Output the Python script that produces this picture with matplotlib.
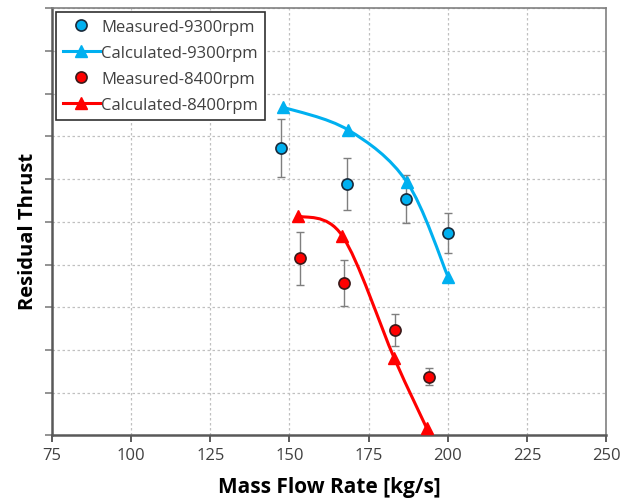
import matplotlib
matplotlib.use("Agg")
import matplotlib.pyplot as plt
import numpy as np
from matplotlib.path import Path
from matplotlib.patches import PathPatch
from matplotlib.lines import Line2D

# ── Data ──────────────────────────────────────────────────────────────────────

meas_9300_x = [147.2, 168.1, 186.8, 200.2]
meas_9300_y = [67.2, 58.8, 55.3, 47.4]
meas_9300_err = [6.8, 6.0, 5.6, 4.7]

calc_9300_x = [148.0, 168.5, 187.1, 200.1]
calc_9300_y = [76.8, 71.5, 59.3, 37.1]

meas_8400_x = [153.3, 167.1, 183.3, 194.1]
meas_8400_y = [41.5, 35.7, 24.7, 13.8]
meas_8400_err = [6.2, 5.4, 3.7, 2.1]

calc_8400_x = [152.6, 166.7, 183.1, 193.3]
calc_8400_y = [51.4, 46.7, 18.1, 1.8]

x_ticks = [75, 100, 125, 150, 175, 200, 225, 250]
labels = ["Measured-9300rpm", "Calculated-9300rpm", "Measured-8400rpm", "Calculated-8400rpm"]

BLUE = "#00B0F0"
RED = "#FF0000"

plt.rcParams["font.family"] = ["Open Sans", "DejaVu Sans"]


def smooth_path(xs, ys):
    """Excel-style smoothed line as cubic Bezier segments through the points."""
    pts = np.column_stack([xs, ys])
    n = len(pts)
    verts = [pts[0]]
    codes = [Path.MOVETO]
    for i in range(n - 1):
        p0 = pts[i - 1] if i > 0 else pts[i]
        p1 = pts[i]
        p2 = pts[i + 1]
        p3 = pts[i + 2] if i + 2 < n else pts[i + 1]
        c1 = p1 + (p2 - p0) / 6
        c2 = p2 - (p3 - p1) / 6
        verts += [c1, c2, p2]
        codes += [Path.CURVE4] * 3
    return Path(verts, codes)


fig = plt.figure(figsize=(6.32, 5.02), dpi=100)
ax = fig.add_axes([0.0823, 0.1305, 0.8766, 0.8515])

# smoothed calculated curves
for xs, ys, c in [(calc_9300_x, calc_9300_y, BLUE), (calc_8400_x, calc_8400_y, RED)]:
    ax.add_patch(PathPatch(smooth_path(xs, ys), fill=False, edgecolor=c, lw=2.2, zorder=3))

for xs, ys, err in [(meas_9300_x, meas_9300_y, meas_9300_err),
                    (meas_8400_x, meas_8400_y, meas_8400_err)]:
    ax.errorbar(xs, ys, yerr=err, fmt="none", ecolor="#7f7f7f",
                elinewidth=1.0, capsize=3, capthick=1.0, zorder=2)

ax.plot(meas_9300_x, meas_9300_y, "o", color=BLUE, mec="#1a2a3a", mew=1.2, ms=8, zorder=5)
ax.plot(calc_9300_x, calc_9300_y, "^", color=BLUE, ms=8, zorder=4)
ax.plot(meas_8400_x, meas_8400_y, "o", color=RED, mec="#3a1a1a", mew=1.2, ms=8, zorder=5)
ax.plot(calc_8400_x, calc_8400_y, "^", color=RED, ms=8, zorder=4)

ax.set_xlim(75, 250)
ax.set_ylim(0, 100)
ax.set_xticks(x_ticks)
ax.set_yticks(np.arange(0, 101, 10))
ax.set_yticklabels([])
ax.tick_params(axis="x", labelsize=12, colors="#404040", length=5, width=1.2)
ax.tick_params(axis="y", length=5, width=1.2, colors="#808080")
ax.grid(True, linestyle=(0, (2, 2)), color="#c0c0c0", lw=0.9)

for s in ["left", "bottom"]:
    ax.spines[s].set_color("#595959")
    ax.spines[s].set_linewidth(1.8)
for s in ["top", "right"]:
    ax.spines[s].set_color("#808080")
    ax.spines[s].set_linewidth(1.2)

ax.set_xlabel("Mass Flow Rate [kg/s]", fontsize=15, fontweight="bold", labelpad=9)
ax.set_ylabel("Residual Thrust", fontsize=14.5, fontweight="bold")
ax.yaxis.set_label_coords(-0.025, 0.48)

# legend: calculated series shown with line + triangle
handles = [
    Line2D([], [], ls="none", marker="o", color=BLUE, mec="#1a2a3a", mew=1.2, ms=8),
    Line2D([], [], ls="-", marker="^", color=BLUE, lw=2.2, ms=8),
    Line2D([], [], ls="none", marker="o", color=RED, mec="#3a1a1a", mew=1.2, ms=8),
    Line2D([], [], ls="-", marker="^", color=RED, lw=2.2, ms=8),
]
leg = ax.legend(handles, labels, loc="upper left", fontsize=12, fancybox=False,
                framealpha=1, edgecolor="#303030", borderaxespad=0.25,
                handlelength=2.2, handletextpad=0.1, labelspacing=0.6,
                borderpad=0.4)
leg.get_frame().set_linewidth(1.2)
for t in leg.get_texts():
    t.set_color("#404040")

fig.savefig("out.png", dpi=100)
